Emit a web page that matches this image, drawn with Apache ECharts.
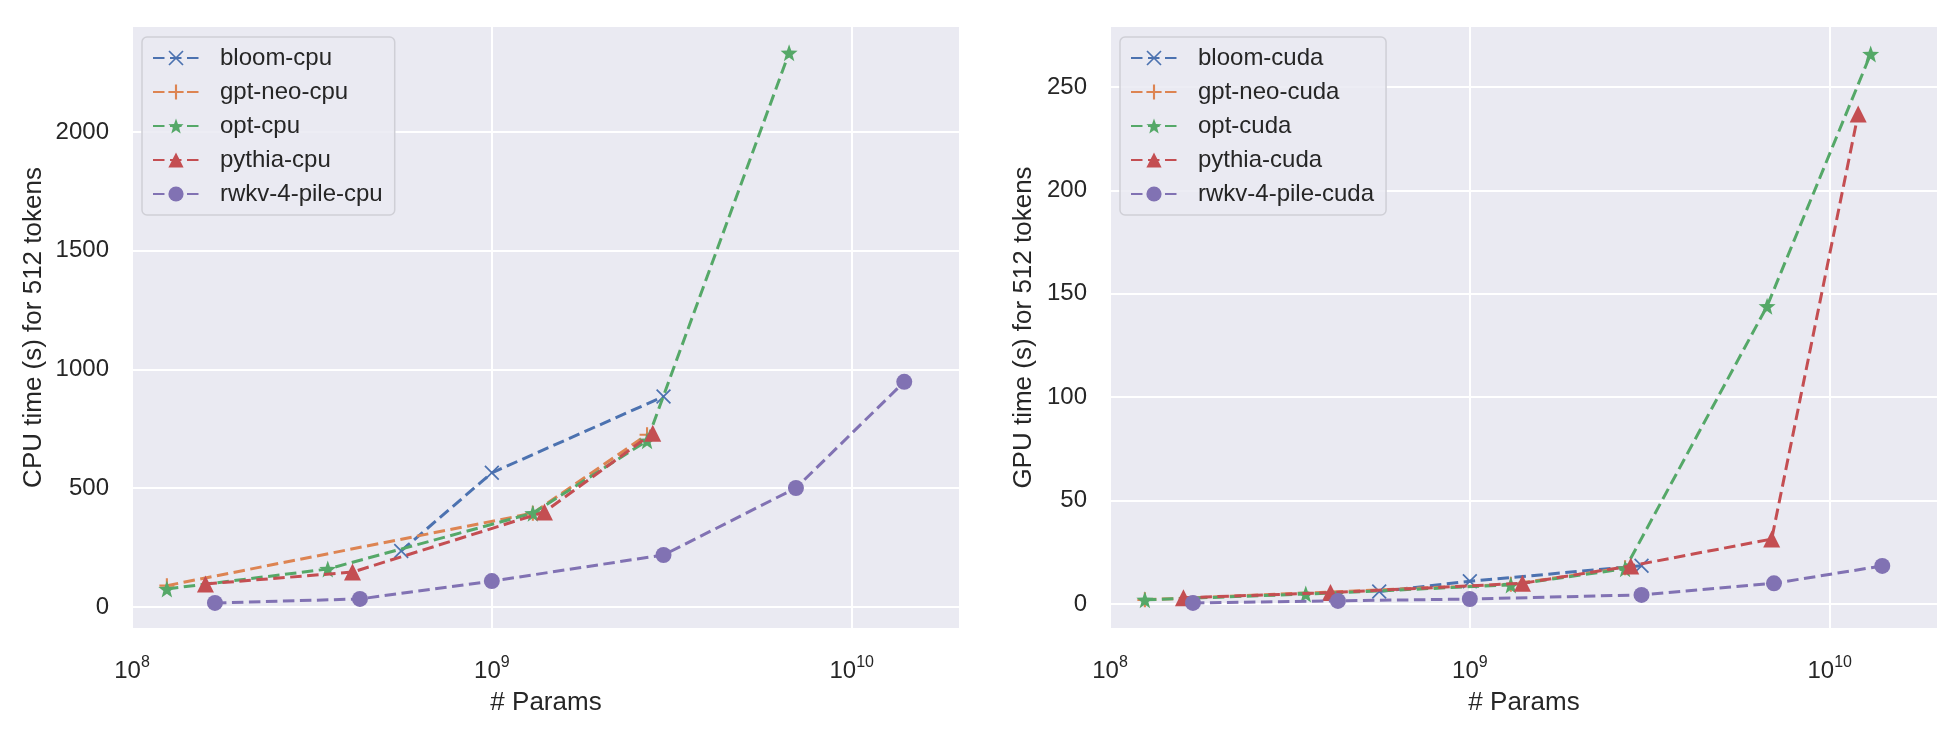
<!DOCTYPE html>
<html><head><meta charset="utf-8">
<script src="https://cdn.jsdelivr.net/npm/echarts@6/dist/echarts.min.js"></script>
<style>html,body{margin:0;padding:0;background:#fff;} #c{width:1960px;height:737px;}</style>
</head><body><div id="c"></div>
<script>
// ---- data (x = # params, y = seconds for 512 tokens) ----
const bloomX   = [5.6e8, 1.0e9, 3.0e9];
const gptneoX  = [1.25e8, 1.3e9, 2.7e9];
const optCpuX  = [1.25e8, 3.5e8, 1.3e9, 2.7e9, 6.7e9];
const optCudaX = [1.25e8, 3.5e8, 1.3e9, 2.7e9, 6.7e9, 1.3e10];
const pythiaCpuX  = [1.6e8, 4.1e8, 1.4e9, 2.8e9];
const pythiaCudaX = [1.6e8, 4.1e8, 1.4e9, 2.8e9, 6.9e9, 1.2e10];
const rwkvX    = [1.7e8, 4.3e8, 1.0e9, 3.0e9, 7.0e9, 1.4e10];

const bloomCpu  = [236, 565, 886];
const gptneoCpu = [90, 395, 725];
const optCpu    = [76, 160, 395, 700, 2333];
const pythiaCpu = [97, 147, 400, 732];
const rwkvCpu   = [17, 34, 109, 219, 501, 948];

const bloomCuda  = [6, 11, 18.5];
const gptneoCuda = [2, 9.5, 17.5];
const optCuda    = [2, 4.8, 9.2, 17, 144, 266];
const pythiaCuda = [3, 5.5, 10, 18.4, 31.4, 237];
const rwkvCuda   = [0.5, 1.5, 2.4, 4.4, 10, 18.4];

const cpuNames  = ['bloom-cpu', 'gpt-neo-cpu', 'opt-cpu', 'pythia-cpu', 'rwkv-4-pile-cpu'];
const cudaNames = ['bloom-cuda', 'gpt-neo-cuda', 'opt-cuda', 'pythia-cuda', 'rwkv-4-pile-cuda'];
const xTickExps = [8, 9, 10];

// ---- styling ----
const COLORS = ['#4C72B0', '#DD8452', '#55A868', '#C44E52', '#8172B3'];
const TXT = '#262626';
const FONT = '"Liberation Sans", Arial, Helvetica, sans-serif';

function starPath() {
  let d = '';
  for (let i = 0; i < 10; i++) {
    const r = (i % 2) ? 4.1 : 10;
    const a = (-90 + i * 36) * Math.PI / 180;
    d += (i ? 'L' : 'M') + (r * Math.cos(a)).toFixed(3) + ',' + (r * Math.sin(a)).toFixed(3);
  }
  return 'path://' + d + 'Z';
}
const SYM_X = 'path://M0,1.6L1.6,0L20,18.4L18.4,20ZM18.4,0L20,1.6L1.6,20L0,18.4Z';
const SYM_PLUS = 'path://M8.6,0L11.4,0L11.4,8.6L20,8.6L20,11.4L11.4,11.4L11.4,20L8.6,20L8.6,11.4L0,11.4L0,8.6L8.6,8.6Z';
const SYMBOLS = [SYM_X, SYM_PLUS, starPath(), 'triangle', 'circle'];
const SIZES = [15, 15, 17, 17, 16];

function mkSeries(name, xs, ys, k, gi) {
  return {
    name, type: 'line', xAxisIndex: gi, yAxisIndex: gi,
    data: xs.map((x, i) => [x, ys[i]]),
    symbol: SYMBOLS[k], symbolSize: SIZES[k], showSymbol: true,
    lineStyle: { color: COLORS[k], width: 3, type: [11.5, 5.5] },
    itemStyle: { color: COLORS[k] },
    emphasis: { disabled: true },
    animation: false, z: 2 + k
  };
}

function xAxis(gi) {
  return {
    type: 'log', logBase: 10, gridIndex: gi, min: 1e8, max: 2e10,
    axisLine: { show: false }, axisTick: { show: false }, minorTick: { show: false },
    splitLine: { show: true, lineStyle: { color: '#ffffff', width: 2 } },
    axisLabel: {
      margin: 26,
      formatter: v => {
        const e = Math.log10(v);
        const r = Math.round(e);
        if (Math.abs(e - r) > 1e-6 || xTickExps.indexOf(r) < 0) return '';
        return '{b|10}{s|' + r + '}';
      },
      rich: {
        b: { fontSize: 24, color: TXT, fontFamily: FONT, verticalAlign: 'bottom' },
        s: { fontSize: 16, color: TXT, fontFamily: FONT, verticalAlign: 'bottom', padding: [0, 0, 12, 0] }
      }
    },
    name: '# Params', nameLocation: 'middle', nameGap: 61,
    nameTextStyle: { fontSize: 26, color: TXT, fontFamily: FONT }
  };
}

function yAxis(gi, min, max, step, name, gap) {
  return {
    type: 'value', gridIndex: gi, min, max, minInterval: step, maxInterval: step,
    axisLine: { show: false }, axisTick: { show: false },
    splitLine: { show: true, lineStyle: { color: '#ffffff', width: 2 } },
    axisLabel: {
      margin: 23, fontSize: 24, color: TXT, fontFamily: FONT,
      formatter: v => (Math.abs(v / step - Math.round(v / step)) < 1e-6 ? String(Math.round(v)) : '')
    },
    name, nameLocation: 'middle', nameGap: gap,
    nameTextStyle: { fontSize: 26, color: TXT, fontFamily: FONT }
  };
}

function legend(left, names) {
  return {
    data: names, orient: 'vertical', left, top: 37,
    itemWidth: 46, itemHeight: 19, itemGap: 0,
    padding: [4, 12, 4, 10],
    backgroundColor: 'rgba(234,234,242,0.85)', borderColor: '#cfcfd6', borderWidth: 1.5, borderRadius: 5,
    textStyle: { fontSize: 24, color: TXT, fontFamily: FONT, lineHeight: 34, padding: [0, 0, 0, 16] },
    selectedMode: false
  };
}

const cpuX = [bloomX, gptneoX, optCpuX, pythiaCpuX, rwkvX];
const cpuY = [bloomCpu, gptneoCpu, optCpu, pythiaCpu, rwkvCpu];
const cudaX = [bloomX, gptneoX, optCudaX, pythiaCudaX, rwkvX];
const cudaY = [bloomCuda, gptneoCuda, optCuda, pythiaCuda, rwkvCuda];

const series = [];
cpuNames.forEach((n, k) => series.push(mkSeries(n, cpuX[k], cpuY[k], k, 0)));
cudaNames.forEach((n, k) => series.push(mkSeries(n, cudaX[k], cudaY[k], k, 1)));

const chart = echarts.init(document.getElementById('c'), null, { renderer: 'canvas' });
chart.setOption({
  animation: false,
  backgroundColor: '#ffffff',
  textStyle: { fontFamily: FONT },
  grid: [
    { left: 132, top: 26, width: 828, height: 603, show: true, backgroundColor: '#EAEAF2', borderWidth: 0 },
    { left: 1110, top: 26, width: 828, height: 603, show: true, backgroundColor: '#EAEAF2', borderWidth: 0 }
  ],
  xAxis: [xAxis(0), xAxis(1)],
  yAxis: [
    yAxis(0, -92.6, 2446, 500, 'CPU time (s) for 512 tokens', 85),
    yAxis(1, -12.1, 279.5, 50, 'GPU time (s) for 512 tokens', 73)
  ],
  legend: [legend(142, cpuNames), legend(1120, cudaNames)],
  series
});
</script></body></html>
